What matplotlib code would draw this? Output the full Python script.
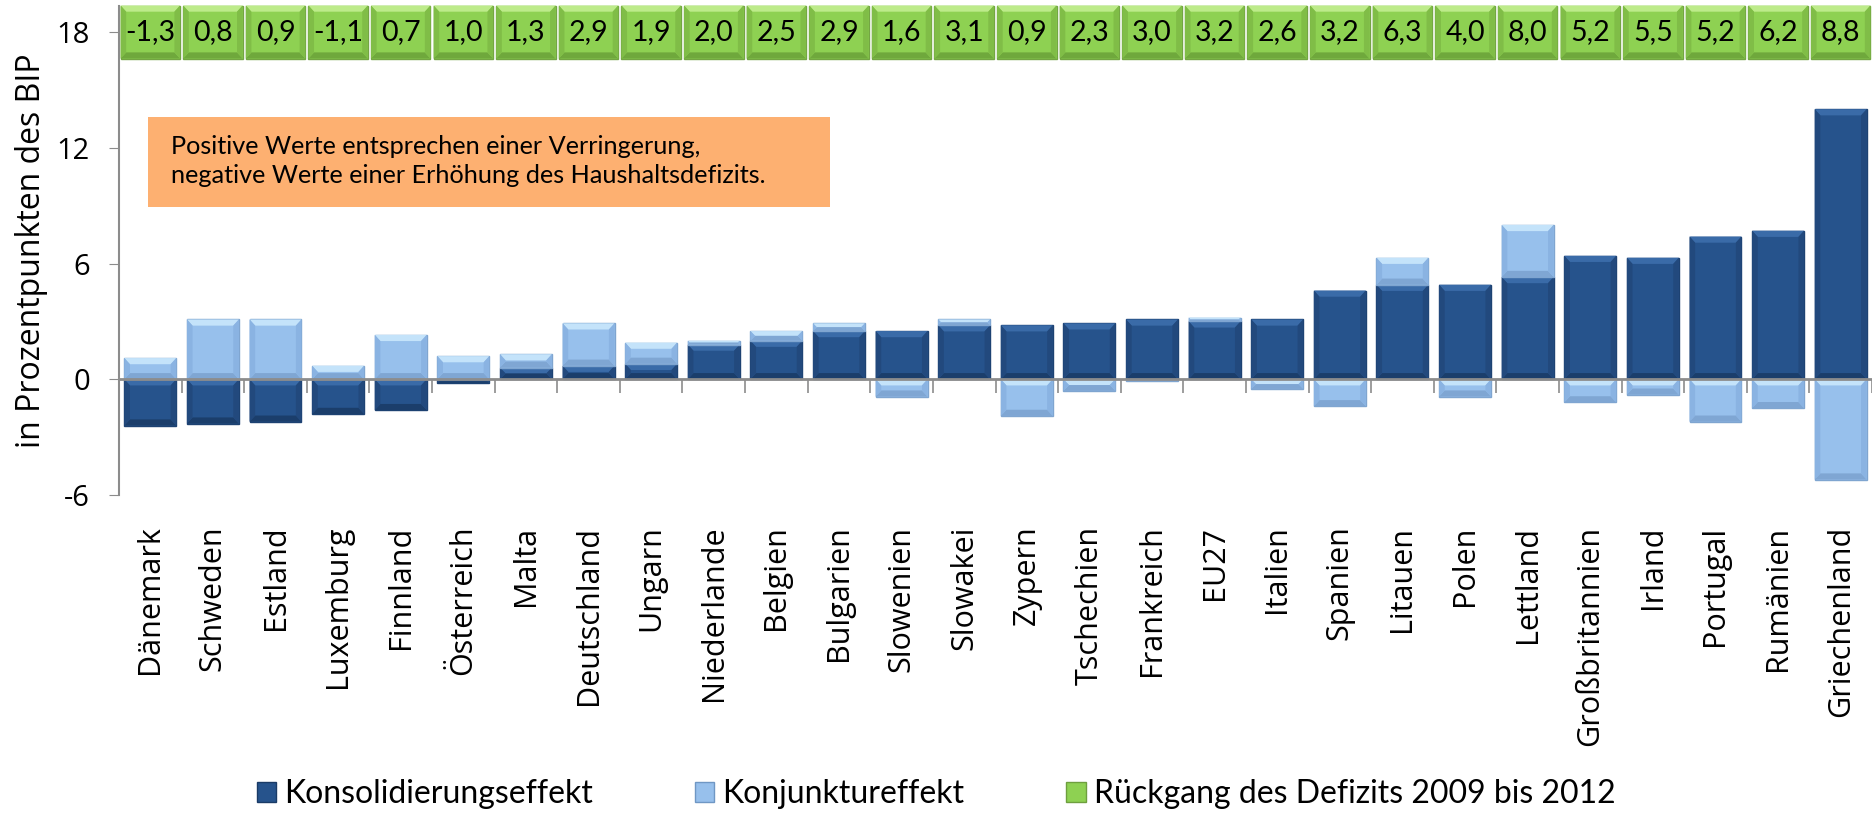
import numpy as np
import matplotlib
matplotlib.use("Agg")
import matplotlib.pyplot as plt
from matplotlib.patches import Rectangle, Polygon

countries = ["Dänemark", "Schweden", "Estland", "Luxemburg", "Finnland", "Österreich",
             "Malta", "Deutschland", "Ungarn", "Niederlande", "Belgien", "Bulgarien",
             "Slowenien", "Slowakei", "Zypern", "Tschechien", "Frankreich", "EU27",
             "Italien", "Spanien", "Litauen", "Polen", "Lettland", "Großbritannien",
             "Irland", "Portugal", "Rumänien", "Griechenland"]

# Konsolidierungseffekt
konsolidierung = [-2.4, -2.3, -2.2, -1.8, -1.6, -0.2, 0.6, 0.7, 0.8, 1.8, 2.0, 2.5,
                  2.5, 2.8, 2.8, 2.9, 3.1, 3.0, 3.1, 4.6, 4.9, 4.9, 5.3, 6.4,
                  6.3, 7.4, 7.7, 14.0]
# Konjunktureffekt
konjunktur = [1.1, 3.1, 3.1, 0.7, 2.3, 1.2, 0.7, 2.2, 1.1, 0.2, 0.5, 0.4,
              -0.9, 0.3, -1.9, -0.6, -0.1, 0.2, -0.5, -1.4, 1.4, -0.9, 2.7, -1.2,
              -0.8, -2.2, -1.5, -5.2]
# Rückgang des Defizits 2009 bis 2012
rueckgang = ["-1,3", "0,8", "0,9", "-1,1", "0,7", "1,0", "1,3", "2,9", "1,9", "2,0",
             "2,5", "2,9", "1,6", "3,1", "0,9", "2,3", "3,0", "3,2", "2,6", "3,2",
             "6,3", "4,0", "8,0", "5,2", "5,5", "5,2", "6,2", "8,8"]

yticks = [-6, 0, 6, 12, 18]

DARK = "#26538C"
LIGHT = "#97C0EC"
GREEN = "#8ED152"


def bevel(ax, patches, top, bottom, side, clip=True):
    # excel-like bevel: lighter top edge, darker bottom and sides
    for p in patches:
        x0, y0 = p.get_x(), p.get_y()
        w, h = p.get_width(), p.get_height()
        if h < 0:
            y0, h = y0 + h, -h
        x1, y1 = x0 + w, y0 + h
        by = min(0.32, h / 2)
        bx = min(0.09, by * 0.3)
        bx = 0.09 if h > 0.6 else bx
        pieces = [
            ([(x0, y1), (x1, y1), (x1 - bx, y1 - by), (x0 + bx, y1 - by)], top),
            ([(x0, y0), (x1, y0), (x1 - bx, y0 + by), (x0 + bx, y0 + by)], bottom),
            ([(x0, y0), (x0 + bx, y0 + by), (x0 + bx, y1 - by), (x0, y1)], side),
            ([(x1, y0), (x1 - bx, y0 + by), (x1 - bx, y1 - by), (x1, y1)], side),
        ]
        for pts, c in pieces:
            ax.add_patch(Polygon(pts, closed=True, facecolor=c, edgecolor="none",
                                 zorder=p.get_zorder() + 0.1, clip_on=clip))


W, H = 1872, 816
fig = plt.figure(figsize=(W / 100, H / 100), dpi=100)
ax = fig.add_axes([119 / W, 1 - 495 / H, (W - 119) / W, (495 - 6) / H])

x = np.arange(len(countries))
kons = np.array(konsolidierung)
konj = np.array(konjunktur)
# Excel stacks positive and negative parts separately
konj_bottom = np.where(np.sign(konj) == np.sign(kons), kons, 0)

b1 = ax.bar(x, kons, width=0.83, color=DARK, edgecolor="#1D4272", linewidth=1.0, zorder=2)
b2 = ax.bar(x, konj, bottom=konj_bottom, width=0.83, color=LIGHT, edgecolor="#7FA5D0",
            linewidth=1.0, zorder=2.5)
bevel(ax, b1, "#3A6BA8", "#1B3E6B", "#22497D")
bevel(ax, b2, "#C4E3FA", "#7FA6D3", "#8AB3E2")

# green label boxes on the 18 line
b3 = ax.bar(x, 2.75, bottom=18 - 1.375, width=0.95, color=GREEN, edgecolor="#73A543",
            linewidth=1.0, zorder=3, clip_on=False)
bevel(ax, b3, "#BDEB8A", "#6FA83C", "#80BD47", clip=False)
for xi, lab in zip(x, rueckgang):
    ax.text(xi, 18, lab, ha="center", va="center", fontsize=20.5, family="Lato",
            zorder=4, clip_on=False)

ax.set_xlim(-0.5, len(countries) - 0.5)
ax.set_ylim(-6, 19.35)

ax.set_yticks(yticks)
ax.set_yticklabels([str(v) for v in yticks], family="Open Sans", fontsize=21)
ax.tick_params(axis="y", length=7, color="#8C8C8C", pad=14)
ax.set_ylabel("in Prozentpunkten des BIP", family="Open Sans", fontsize=23, labelpad=6)

for s in ["top", "right"]:
    ax.spines[s].set_visible(False)
ax.spines["left"].set_color("#8C8C8C")
ax.spines["left"].set_linewidth(1.5)
ax.spines["bottom"].set_position(("data", 0))
ax.spines["bottom"].set_color("#8C8C8C")
ax.spines["bottom"].set_linewidth(2)
ax.spines["bottom"].set_zorder(3)
ax.set_xticks(np.arange(len(countries) + 1) - 0.5)
ax.set_xticklabels([])
ax.tick_params(axis="x", length=10, color="#8C8C8C", width=1.2)

sec = ax.secondary_xaxis("bottom")
sec.set_xticks(x)
sec.set_xticklabels(countries, rotation=90, family="Open Sans", fontsize=22)
sec.tick_params(length=0, pad=22)
sec.spines["bottom"].set_visible(False)

# note box
ax.add_patch(Rectangle((0.0165, 0.589), 0.389, 0.184, transform=ax.transAxes,
                       facecolor="#FDB071", edgecolor="none", zorder=1))
ax.text(0.0297, 0.683, "Positive Werte entsprechen einer Verringerung,\n"
        "negative Werte einer Erhöhung des Haushaltsdefizits.",
        transform=ax.transAxes, ha="left", va="center", fontsize=18.2, family="Lato",
        linespacing=1.35, zorder=2)

handles = [Rectangle((0, 0), 1, 1, facecolor=c, edgecolor=e)
           for c, e in [(DARK, "#1A3B66"), (LIGHT, "#6F97C4"), (GREEN, "#6E9F3E")]]
fig.legend(handles, ["Konsolidierungseffekt", "Konjunktureffekt",
                     "Rückgang des Defizits 2009 bis 2012"],
           loc="center", bbox_to_anchor=(0.5, 1 - 794 / H), ncol=3, frameon=False,
           prop={"family": "Lato", "size": 23}, handlelength=0.6, handleheight=0.6,
           handletextpad=0.25, columnspacing=3.2)

fig.savefig("out.png", dpi=100)
